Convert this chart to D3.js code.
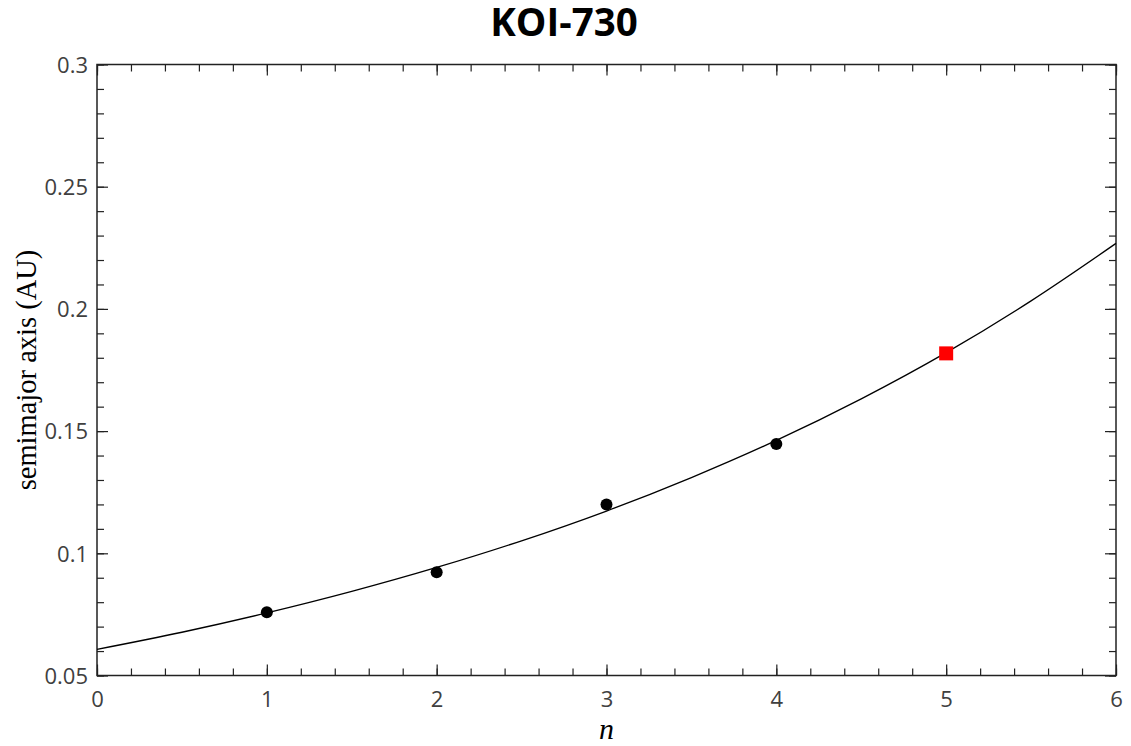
<!DOCTYPE html>
<html><head><meta charset="utf-8">
<script src="https://cdn.jsdelivr.net/npm/d3@7"></script>
<style>body{margin:0;background:#fff}</style>
</head><body>
<script>
// Data
const planetN = [1, 2, 3, 4];
const planetA = [0.0759, 0.0922, 0.1200, 0.1447];
const predictedN = [5];
const predictedA = [0.1818];
const fitN = [0, 0.5, 1, 1.5, 2, 2.5, 3, 3.5, 4, 4.5, 5, 5.5, 6];
const fitA = [0.0607, 0.0677, 0.0756, 0.0844, 0.0942, 0.1051, 0.1173, 0.1310, 0.1462, 0.1632, 0.1821, 0.2033, 0.2268];
const xTicks = [0, 1, 2, 3, 4, 5, 6];
const yTicks = [0.05, 0.1, 0.15, 0.2, 0.25, 0.3];
const title = "KOI-730";
const xLabel = "n";
const yLabel = "semimajor axis (AU)";

const W = 1131, H = 746;
const m = {left: 97, right: 1116, top: 64.5, bottom: 675.5};
const svg = d3.select("body").append("svg").attr("width", W).attr("height", H);

const x = d3.scaleLinear().domain([0, 6]).range([m.left, m.right]);
const y = d3.scaleLinear().domain([0.05, 0.3]).range([m.bottom, m.top]);

const xMinor = d3.range(0, 6.0001, 0.2);
const yMinor = d3.range(0.05, 0.30001, 0.01);

const tickColor = "#222";
function drawAxis(gen, transform, showLabels) {
  const g = svg.append("g").attr("transform", transform).call(gen);
  g.select(".domain").remove();
  g.selectAll("line").attr("stroke", tickColor).attr("stroke-width", 1.2);
  if (!showLabels) g.selectAll("text").remove();
  else g.selectAll("text").attr("fill", "#404040").style("font-family", "'Open Sans', sans-serif").style("font-size", "22px");
  return g;
}
// minor ticks (inward)
drawAxis(d3.axisBottom(x).tickValues(xMinor).tickSize(-7).tickFormat(""), `translate(0,${m.bottom})`, false);
drawAxis(d3.axisTop(x).tickValues(xMinor).tickSize(-7).tickFormat(""), `translate(0,${m.top})`, false);
drawAxis(d3.axisLeft(y).tickValues(yMinor).tickSize(-7).tickFormat(""), `translate(${m.left},0)`, false);
drawAxis(d3.axisRight(y).tickValues(yMinor).tickSize(-7).tickFormat(""), `translate(${m.right},0)`, false);
// major ticks
const gx = drawAxis(d3.axisBottom(x).tickValues(xTicks).tickSize(-11).tickPadding(0).tickFormat(d3.format("d")), `translate(0,${m.bottom})`, true);
gx.selectAll("text").attr("y", 31.5).attr("dy", 0);
drawAxis(d3.axisTop(x).tickValues(xTicks).tickSize(-11).tickFormat(""), `translate(0,${m.top})`, false);
const gy = drawAxis(d3.axisLeft(y).tickValues(yTicks).tickSize(-11).tickFormat(d => String(+d.toFixed(2))), `translate(${m.left},0)`, true);
gy.selectAll("text").attr("x", -9).attr("dy", "0.35em");
drawAxis(d3.axisRight(y).tickValues(yTicks).tickSize(-11).tickFormat(""), `translate(${m.right},0)`, false);

// frame
svg.append("rect").attr("x", m.left).attr("y", m.top).attr("width", m.right - m.left).attr("height", m.bottom - m.top)
  .attr("fill", "none").attr("stroke", "#222").attr("stroke-width", 1.5);

// fit curve
const fit = fitN.map((n, i) => [n, fitA[i]]);
svg.append("path").datum(fit)
  .attr("d", d3.line().x(d => x(d[0])).y(d => y(d[1])).curve(d3.curveCatmullRom))
  .attr("fill", "none").attr("stroke", "#000").attr("stroke-width", 1.3);

// planets
svg.selectAll("circle.pl").data(planetN.map((n, i) => [n, planetA[i]])).enter().append("circle")
  .attr("cx", d => x(d[0])).attr("cy", d => y(d[1])).attr("r", 6).attr("fill", "#000");
// predicted
const sq = 14;
svg.selectAll("rect.pr").data(predictedN.map((n, i) => [n, predictedA[i]])).enter().append("rect")
  .attr("x", d => x(d[0]) - sq / 2).attr("y", d => y(d[1]) - sq / 2).attr("width", sq).attr("height", sq).attr("fill", "#f00");

// texts
svg.append("text").attr("x", 564).attr("y", 36).attr("text-anchor", "middle")
  .style("font-family", "'Open Sans', sans-serif").style("font-weight", "bold").style("font-size", "38.5px").attr("fill", "#000").text(title);
svg.append("text").attr("x", (m.left + m.right) / 2).attr("y", 739).attr("text-anchor", "middle")
  .style("font-family", "'Liberation Serif', serif").style("font-style", "italic").style("font-size", "30px").attr("fill", "#000").text(xLabel);
svg.append("text").attr("transform", `translate(36,${(m.top + m.bottom) / 2}) rotate(-90)`).attr("text-anchor", "middle")
  .style("font-family", "'Liberation Serif', serif").style("font-size", "28.5px").attr("fill", "#000").text(yLabel);
</script>
</body></html>
